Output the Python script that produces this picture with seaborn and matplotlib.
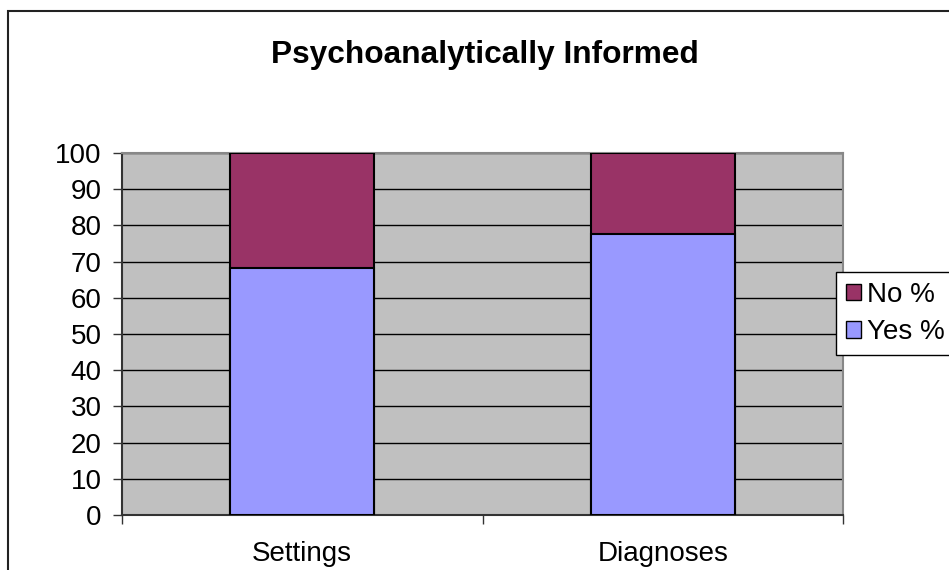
import matplotlib
matplotlib.use("Agg")
import matplotlib.pyplot as plt
import seaborn as sns
import pandas as pd
from matplotlib.patches import Rectangle, Patch

categories = ["Settings", "Diagnoses"]
yes_pct = [68.2, 77.6]
no_pct = [31.8, 22.4]
y_ticks = list(range(0, 101, 10))

yes_color = "#9999FF"
no_color = "#993366"

sns.set_style("white")
plt.rcParams["font.family"] = ["Liberation Sans", "DejaVu Sans"]
plt.rcParams["text.color"] = "black"
plt.rcParams["xtick.color"] = "black"
plt.rcParams["ytick.color"] = "black"

df = pd.DataFrame({"cat": categories, "yes": yes_pct, "no": no_pct})
df["total"] = df["yes"] + df["no"]

fig = plt.figure(figsize=(9.49, 5.70), dpi=100)
ax = fig.add_axes([122 / 949, 1 - 515 / 570, (843 - 122) / 949, (515 - 153) / 570])
ax.set_facecolor("#C0C0C0")

# stacked: draw the total first, then the lower part on top
sns.barplot(data=df, x="cat", y="total", color=no_color, width=0.4,
            edgecolor="black", linewidth=1.5, saturation=1, ax=ax, zorder=3)
sns.barplot(data=df, x="cat", y="yes", color=yes_color, width=0.4,
            edgecolor="black", linewidth=1.5, saturation=1, ax=ax, zorder=3)

ax.set_xlim(-0.5, 1.5)
ax.set_ylim(0, 100)
ax.set_yticks(y_ticks)
ax.yaxis.grid(True, color="black", linewidth=1, zorder=1)
ax.set_axisbelow(True)
ax.set_xlabel("")
ax.set_ylabel("")

ax.tick_params(axis="y", labelsize=20, length=6.5, width=1, color="#333333", direction="out", left=True, pad=8,
               labelcolor="black")
ax.tick_params(axis="x", which="major", labelsize=20, length=0, pad=19, labelcolor="black")
ax.set_xticks([-0.5, 0.5, 1.5], minor=True)
ax.tick_params(axis="x", which="minor", length=6.5, width=1, color="#333333", direction="out", bottom=True)

for side in ["left", "bottom"]:
    ax.spines[side].set_color("#333333")
    ax.spines[side].set_linewidth(1.5)
for side in ["top", "right"]:
    ax.spines[side].set_color("#888888")
    ax.spines[side].set_linewidth(1.5)

fig.text(485 / 949, 1 - 55 / 570, "Psychoanalytically Informed", ha="center", va="center",
         fontsize=22.8, fontweight="bold", color="black")

handles = [Patch(facecolor=no_color, edgecolor="black", label="No %"),
           Patch(facecolor=yes_color, edgecolor="black", label="Yes %")]
leg = fig.legend(handles=handles, loc="upper left", bbox_to_anchor=(836 / 949, 1 - 272 / 570),
                 fontsize=20, frameon=True, fancybox=False, handlelength=0.55, handleheight=0.55,
                 handletextpad=0.22, borderpad=0.35, labelspacing=0.42, borderaxespad=0)
leg.get_frame().set_edgecolor("black")
leg.get_frame().set_linewidth(1)
leg.get_frame().set_alpha(1)

# outer chart border, runs off the right and bottom edges
fig.patches.append(Rectangle((8 / 949, -0.05), 1.0, 1 - 11 / 570 + 0.05, transform=fig.transFigure,
                             fill=False, edgecolor="#222222", linewidth=1.5))

fig.savefig("out.png", dpi=100)
